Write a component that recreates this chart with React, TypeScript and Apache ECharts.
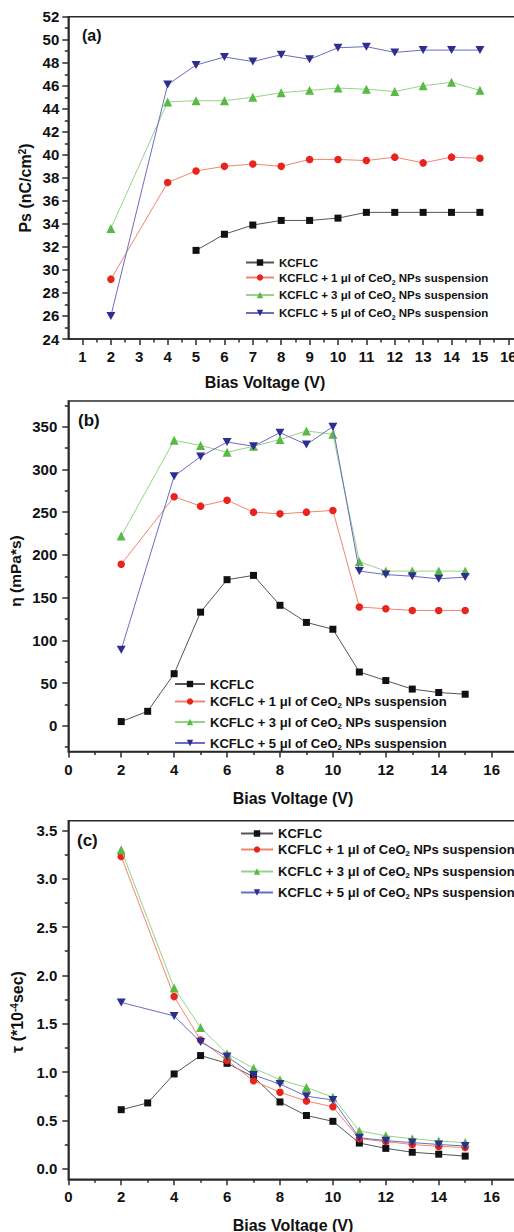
import React, { useEffect, useRef } from 'react';
import * as echarts from 'echarts';

// ---------- data ----------
const VOLTS_ALL = [2, 3, 4, 5, 6, 7, 8, 9, 10, 11, 12, 13, 14, 15];
const VOLTS_NO3 = [2, 4, 5, 6, 7, 8, 9, 10, 11, 12, 13, 14, 15];
const VOLTS_FROM5 = [5, 6, 7, 8, 9, 10, 11, 12, 13, 14, 15];

const NAMES = [
  'KCFLC',
  'KCFLC + 1 μl of CeO2 NPs suspension',
  'KCFLC + 3 μl of CeO2 NPs suspension',
  'KCFLC + 5 μl of CeO2 NPs suspension',
];

// (a) Ps (nC/cm2)
const PS_KCFLC = [31.7, 33.1, 33.9, 34.3, 34.3, 34.5, 35.0, 35.0, 35.0, 35.0, 35.0];
const PS_1UL = [29.2, 37.6, 38.6, 39.0, 39.2, 39.0, 39.6, 39.6, 39.5, 39.8, 39.3, 39.8, 39.7];
const PS_3UL = [33.6, 44.6, 44.7, 44.7, 45.0, 45.4, 45.6, 45.8, 45.7, 45.5, 46.0, 46.3, 45.6];
const PS_5UL = [26.0, 46.1, 47.8, 48.5, 48.1, 48.7, 48.3, 49.3, 49.4, 48.9, 49.1, 49.1, 49.1];

// (b) viscosity (mPa*s)
const ETA_KCFLC = [5, 17, 61, 133, 171, 176, 141, 121, 113, 63, 53, 43, 39, 37];
const ETA_1UL = [189, 268, 257, 264, 250, 248, 250, 252, 139, 137, 135, 135, 135];
const ETA_3UL = [222, 334, 328, 320, 327, 335, 345, 341, 192, 181, 181, 181, 181];
const ETA_5UL = [89, 292, 315, 332, 327, 343, 329, 350, 181, 177, 175, 172, 174];

// (c) response time (*10^-4 sec)
const TAU_KCFLC = [0.61, 0.68, 0.98, 1.17, 1.09, 0.95, 0.69, 0.55, 0.49, 0.265, 0.21, 0.17, 0.15, 0.13];
const TAU_1UL = [3.23, 1.78, 1.33, 1.12, 0.91, 0.79, 0.70, 0.64, 0.31, 0.28, 0.25, 0.23, 0.22];
const TAU_3UL = [3.30, 1.87, 1.46, 1.19, 1.04, 0.92, 0.84, 0.74, 0.39, 0.34, 0.31, 0.285, 0.27];
const TAU_5UL = [1.72, 1.58, 1.31, 1.16, 0.97, 0.875, 0.75, 0.71, 0.32, 0.29, 0.27, 0.25, 0.235];

// tick values
const A_X_LABELS = [1, 2, 3, 4, 5, 6, 7, 8, 9, 10, 11, 12, 13, 14, 15, 16];
const A_X_MINOR = [1.5, 2.5, 3.5, 4.5, 5.5, 6.5, 7.5, 8.5, 9.5, 10.5, 11.5, 12.5, 13.5, 14.5, 15.5];
const A_Y_LABELS = [24, 26, 28, 30, 32, 34, 36, 38, 40, 42, 44, 46, 48, 50, 52];
const A_Y_MINOR = [25, 27, 29, 31, 33, 35, 37, 39, 41, 43, 45, 47, 49, 51];
const BC_X_LABELS = [0, 2, 4, 6, 8, 10, 12, 14, 16];
const BC_X_MINOR = [1, 3, 5, 7, 9, 11, 13, 15];
const B_Y_LABELS = [0, 50, 100, 150, 200, 250, 300, 350];
const B_Y_MINOR = [-25, 25, 75, 125, 175, 225, 275, 325, 375];
const C_Y_LABELS = [0, 0.5, 1.0, 1.5, 2.0, 2.5, 3.0, 3.5];
const C_Y_MINOR = [0.25, 0.75, 1.25, 1.75, 2.25, 2.75, 3.25];

// ---------- styles ----------
const FONT = '"Liberation Sans", Arial, Helvetica, sans-serif';
const AXIS_COLOR = '#2a2a2a';
const TEXT_COLOR = '#111';

const MARKER_COLORS = ['#111111', '#e8241c', '#58b947', '#2e2e8e'];
const LINE_COLORS = ['#555555', '#f2856f', '#97d387', '#6c6cc0'];
const SYMBOLS = ['rect', 'circle', 'triangle', 'path://M0,0L10,0L5,9Z'];
const SYMBOL_SIZES: any[] = [7, 7.5, 9, [9, 8]];

const pair = (xs: number[], ys: number[]) => xs.map((x, i) => [x, ys[i]]);

const GRIDS = [
  { left: 68.3, top: 16.7, width: 454.2, height: 322.3 },
  { left: 68.3, top: 401, width: 449.8, height: 350.5 },
  { left: 68.3, top: 820.7, width: 449.8, height: 358.6 },
];

function mainX(grid: number, min: number, max: number, labels: number[], fmt?: (v: number) => string) {
  return {
    type: 'value', gridIndex: grid, min, max, position: 'bottom',
    axisLine: { show: true, onZero: false, lineStyle: { color: AXIS_COLOR, width: 1.6 } },
    axisTick: { show: true, inside: false, length: 6, customValues: labels, lineStyle: { color: AXIS_COLOR, width: 1.5 } },
    axisLabel: {
      show: true, customValues: labels, margin: 10, fontSize: 15, fontWeight: 'bold',
      fontFamily: FONT, color: TEXT_COLOR, hideOverlap: false,
      formatter: fmt || ((v: number) => String(v)),
    },
    splitLine: { show: false },
  };
}
function minorX(grid: number, min: number, max: number, minors: number[]) {
  return {
    type: 'value', gridIndex: grid, min, max, position: 'bottom',
    axisLine: { show: false, onZero: false },
    axisTick: { show: true, inside: false, length: 3.5, customValues: minors, lineStyle: { color: AXIS_COLOR, width: 1.5 } },
    axisLabel: { show: false },
    splitLine: { show: false },
  };
}
function mainY(grid: number, min: number, max: number, labels: number[], margin: number, fmt?: (v: number) => string) {
  return {
    type: 'value', gridIndex: grid, min, max, position: 'left',
    axisLine: { show: true, onZero: false, lineStyle: { color: AXIS_COLOR, width: 1.6 } },
    axisTick: { show: true, inside: false, length: 6, customValues: labels, lineStyle: { color: AXIS_COLOR, width: 1.5 } },
    axisLabel: {
      show: true, customValues: labels, margin, fontSize: 15, fontWeight: 'bold',
      fontFamily: FONT, color: TEXT_COLOR, hideOverlap: false,
      formatter: fmt || ((v: number) => String(v)),
    },
    splitLine: { show: false },
  };
}
function minorY(grid: number, min: number, max: number, minors: number[]) {
  return {
    type: 'value', gridIndex: grid, min, max, position: 'left',
    axisLine: { show: false, onZero: false },
    axisTick: { show: true, inside: false, length: 3.5, customValues: minors, lineStyle: { color: AXIS_COLOR, width: 1.5 } },
    axisLabel: { show: false },
    splitLine: { show: false },
  };
}

function lineSeries(k: number, axis: number, data: number[][]) {
  return {
    type: 'line', name: NAMES[k], xAxisIndex: axis, yAxisIndex: axis,
    data, symbol: SYMBOLS[k], symbolSize: SYMBOL_SIZES[k], showSymbol: true,
    lineStyle: { color: LINE_COLORS[k], width: 1 },
    itemStyle: { color: MARKER_COLORS[k], borderWidth: 0 },
    emphasis: { disabled: true }, z: 3 + k,
  };
}

function legendItem(k: number, left: number, cy: number, itemWidth: number, fontSize: number) {
  const lh = 16;
  return {
    show: true, data: [NAMES[k]], orient: 'vertical', left, top: cy - lh / 2,
    padding: 0, itemWidth, itemHeight: 8, selectedMode: false,
    formatter: (name: string) => name.replace('CeO2', 'CeO{sub|2}'),
    textStyle: {
      fontSize, fontWeight: 'bold', fontFamily: FONT, color: TEXT_COLOR, lineHeight: lh,
      rich: {
        sub: { fontSize: fontSize * 0.6, fontWeight: 'bold', fontFamily: FONT, color: TEXT_COLOR, lineHeight: 6, verticalAlign: 'bottom' },
      },
    },
  };
}

const LEGEND_A_ROWS = [262.5, 277.5, 295, 313];
const LEGEND_B_ROWS = [684, 701.5, 722, 743];
const LEGEND_C_ROWS = [833.5, 849.5, 871.5, 892.5];

function textEl(x: number, y: number, text: string, size: number, rotate = 0, rich?: any, align = 'center') {
  return {
    type: 'text', x, y, rotation: rotate, z: 10,
    style: {
      text, fontSize: size, fontWeight: 'bold', fontFamily: FONT, fill: TEXT_COLOR,
      align, verticalAlign: 'middle', rich,
    },
  };
}

const SUP_RICH = { sup: { fontSize: 10, fontWeight: 'bold', fontFamily: FONT, fill: TEXT_COLOR, color: TEXT_COLOR, lineHeight: 10, verticalAlign: 'top' } };

export default function App() {
  const ref = useRef<HTMLDivElement>(null);
  useEffect(() => {
    if (!ref.current) return;
    const chart = echarts.init(ref.current, undefined, { renderer: 'svg' });
    const option: any = {
      animation: false,
      backgroundColor: '#ffffff',
      grid: GRIDS.map((g) => ({ ...g, show: true, borderColor: AXIS_COLOR, borderWidth: 1.5, backgroundColor: 'transparent', containLabel: false, outerBoundsMode: 'none' })),
      xAxis: [
        mainX(0, 0.5, 16.5, A_X_LABELS),
        minorX(0, 0.5, 16.5, A_X_MINOR),
        mainX(1, 0, 17, BC_X_LABELS),
        minorX(1, 0, 17, BC_X_MINOR),
        mainX(2, 0, 17, BC_X_LABELS),
        minorX(2, 0, 17, BC_X_MINOR),
      ],
      yAxis: [
        mainY(0, 24, 52, A_Y_LABELS, 9),
        minorY(0, 24, 52, A_Y_MINOR),
        mainY(1, -30, 380, B_Y_LABELS, 11),
        minorY(1, -30, 380, B_Y_MINOR),
        mainY(2, -0.11, 3.6, C_Y_LABELS, 11, (v: number) => v.toFixed(1)),
        minorY(2, -0.11, 3.6, C_Y_MINOR),
      ],
      legend: [
        ...[0, 1, 2, 3].map((k) => legendItem(k, 245, LEGEND_A_ROWS[k], 28, 11.5)),
        ...[0, 1, 2, 3].map((k) => legendItem(k, 174, LEGEND_B_ROWS[k], 30, 13)),
        ...[0, 1, 2, 3].map((k) => legendItem(k, 240, LEGEND_C_ROWS[k], 32, 13)),
      ],
      series: [
        lineSeries(0, 0, pair(VOLTS_FROM5, PS_KCFLC)),
        lineSeries(1, 0, pair(VOLTS_NO3, PS_1UL)),
        lineSeries(2, 0, pair(VOLTS_NO3, PS_3UL)),
        lineSeries(3, 0, pair(VOLTS_NO3, PS_5UL)),
        lineSeries(0, 2, pair(VOLTS_ALL, ETA_KCFLC)),
        lineSeries(1, 2, pair(VOLTS_NO3, ETA_1UL)),
        lineSeries(2, 2, pair(VOLTS_NO3, ETA_3UL)),
        lineSeries(3, 2, pair(VOLTS_NO3, ETA_5UL)),
        lineSeries(0, 4, pair(VOLTS_ALL, TAU_KCFLC)),
        lineSeries(1, 4, pair(VOLTS_NO3, TAU_1UL)),
        lineSeries(2, 4, pair(VOLTS_NO3, TAU_3UL)),
        lineSeries(3, 4, pair(VOLTS_NO3, TAU_5UL)),
      ],
      graphic: [
        textEl(82, 35, '(a)', 16, 0, undefined, 'left'),
        textEl(78, 420, '(b)', 17, 0, undefined, 'left'),
        textEl(77, 840, '(c)', 17, 0, undefined, 'left'),
        textEl(265, 382, 'Bias Voltage (V)', 16),
        textEl(293, 798, 'Bias Voltage (V)', 16),
        textEl(293, 1225, 'Bias Voltage (V)', 16),
        textEl(25, 188, 'Ps (nC/cm{sup|2})', 16, Math.PI / 2, SUP_RICH),
        textEl(15, 571, 'η (mPa*s)', 15.5, Math.PI / 2),
        textEl(17, 1012, 'τ (*10{sup|-4}sec)', 16, Math.PI / 2, SUP_RICH),
      ],
    };
    chart.setOption(option);
    return () => chart.dispose();
  }, []);
  return (
    <div
      ref={ref}
      style={{ position: 'absolute', left: 0, top: 0, width: 514, height: 1232, background: '#fff' }}
    />
  );
}
